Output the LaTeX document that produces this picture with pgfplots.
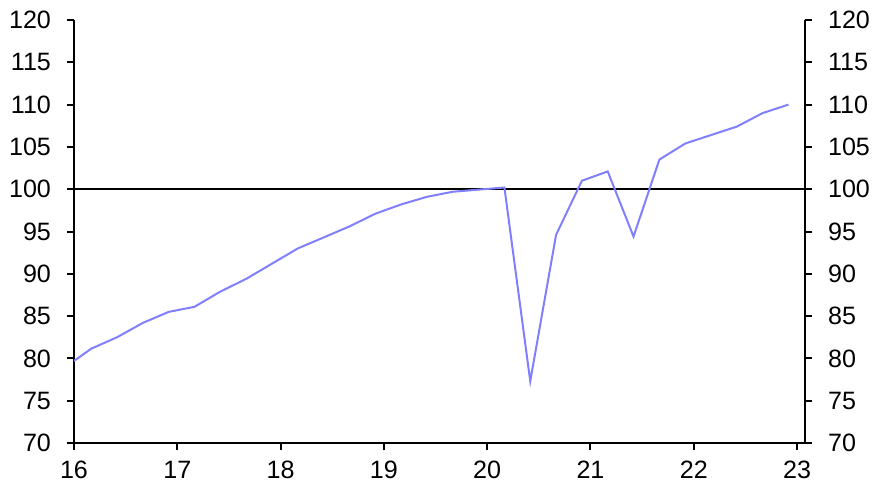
\documentclass[border=0pt]{standalone}
\usepackage{fontspec}
\setmainfont{Liberation Sans}
\usepackage{pgfplots}
\pgfplotsset{compat=1.18}
\definecolor{serieblue}{RGB}{128,128,255}
\begin{document}
\begin{tikzpicture}
\path[use as bounding box] (-37bp,-21.5bp) rectangle (404bp,221.5bp);
\pgfplotsset{
  common/.style={
    width=365.5bp, height=211.5bp, scale only axis,
    at={(0,0)}, anchor=south west,
    xmin=16, xmax=23.077, ymin=70, ymax=120,
    ytick={70,75,...,120},
    tick align=outside,
    major tick length=3.5bp,
    axis line style={-, line width=1bp, black},
    every tick/.style={black, line width=1bp},
    tick label style={font=\fontsize{12.6}{15}\selectfont},
    /pgf/number format/assume math mode=true,
  }
}
\begin{axis}[common,
  axis x line*=bottom, axis y line*=left,
  xtick={16,...,23},
  yticklabel style={xshift=-4.5bp},
  xticklabel style={yshift=-2bp},
]
\addplot[black, line width=1bp] coordinates {(16,100) (23.077,100)};
\addplot[serieblue, line width=1bp, no marks] coordinates {
(16.0,79.7)
(16.167,81.15)
(16.417,82.5)
(16.667,84.2)
(16.917,85.5)
(17.167,86.1)
(17.417,87.9)
(17.667,89.4)
(17.917,91.2)
(18.167,93.0)
(18.417,94.3)
(18.667,95.6)
(18.917,97.1)
(19.167,98.2)
(19.417,99.1)
(19.667,99.7)
(19.917,99.95)
(20.167,100.2)
(20.417,77.3)
(20.667,94.6)
(20.917,101.0)
(21.167,102.1)
(21.417,94.4)
(21.667,103.5)
(21.917,105.4)
(22.167,106.4)
(22.417,107.4)
(22.667,109.0)
(22.917,110.0)
};
\end{axis}
\begin{axis}[common,
  axis x line=none, axis y line*=right,
  yticklabel style={xshift=4.5bp},
]
\end{axis}
\end{tikzpicture}
\end{document}
